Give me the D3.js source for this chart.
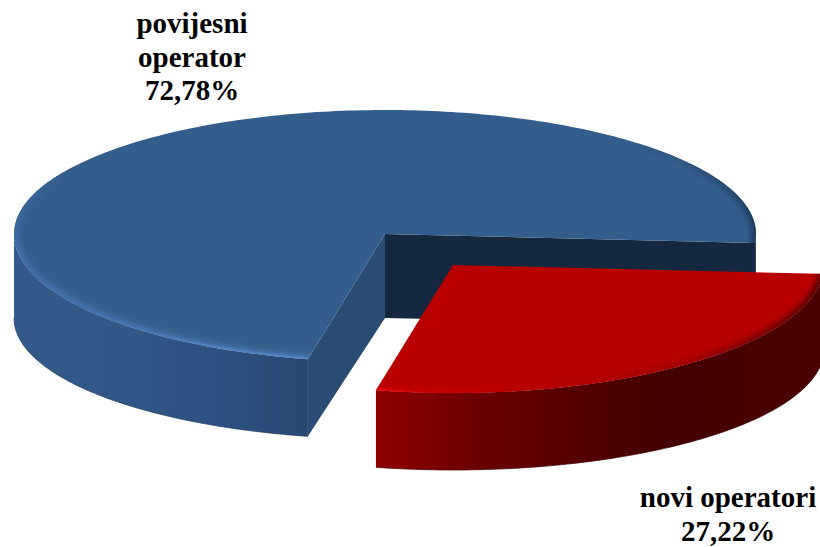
<!DOCTYPE html>
<html>
<head>
<meta charset="utf-8">
<script src="https://cdn.jsdelivr.net/npm/d3@7"></script>
<style>
	html, body { margin: 0; padding: 0; background: #fff; }
	svg { display: block; }
	text { font-family: "Liberation Serif", serif; font-weight: bold; font-size: 29px; fill: #000; }
</style>
</head>
<body>
<svg id="pie" width="820" height="547" viewBox="0 0 820 547"></svg>
<script>
const categories = ["novi operatori", "povijesni operator"];
const shares = [27.22, 72.78];
const share_labels = ["27,22%", "72,78%"];

const svg = d3.select("#pie");
const defs = svg.append("defs");

const rx = 371;
const ry_back = 124;
const ry_front = 128;
const ry_base = 121;
const depth = 84;
const deg = Math.PI / 180;

// the red slice comes first, clockwise from just under "3 o'clock"
const slices = d3.pie().sort(null).startAngle(94 * deg).endAngle(454 * deg)(shares);
const red = slices[0];
const blue = slices[1];

const center_blue = [385, 234];
const center_red = [453, 265];

// flat pie angle to a point of the tilted rim
function rim(c, a, base) {
	const cos = Math.cos(a);
	if (base) return [c[0] + rx * Math.sin(a), c[1] + depth - (cos > 0 ? ry_back : ry_base) * cos];
	return [c[0] + rx * Math.sin(a), c[1] - (cos > 0 ? ry_back : ry_front) * cos];
}

function angles(a0, a1) {
	const n = Math.ceil(Math.abs(a1 - a0) / deg);
	return d3.range(n + 1).map(i => a0 + (a1 - a0) * i / n);
}

const line = d3.line();

function gradient(id, stops, vertical) {
	const g = defs.append("linearGradient")
		.attr("id", id)
		.attr("gradientUnits", "userSpaceOnUse")
		.attr("x1", 0).attr("y1", 0)
		.attr("x2", vertical ? 0 : 820).attr("y2", vertical ? 547 : 0);
	g.selectAll("stop")
		.data(stops)
		.enter()
		.append("stop")
			.attr("offset", d => d[0] / (vertical ? 547 : 820))
			.attr("stop-color", d => d[1]);
}

gradient("wall-blue", [[13, "#33598a"], [130, "#305786"], [220, "#2d5080"], [308, "#294870"]]);
gradient("wall-red", [[375, "#900000"], [470, "#6e0000"], [600, "#500000"], [660, "#440000"], [800, "#4a0000"]]);
gradient("rim-blue-light", [[175, "#335e8c"], [250, "#4674ae"], [360, "#4a7ab4"]], true);
gradient("rim-blue-line", [[60, "#3f6da6"], [200, "#5486c4"], [308, "#5c8ecb"]]);
gradient("rim-blue-dark", [[560, "#335e8c"], [690, "#2e5480"], [756, "#1c3555"]]);
gradient("rim-red", [[375, "#c80000"], [470, "#bc0000"], [600, "#b00000"], [700, "#900000"], [818, "#480000"]]);
gradient("rim-red-line", [[375, "#ee1010"], [440, "#cc0000"], [520, "#b80000"]]);

function blurFilter(id, amount) {
	defs.append("filter")
		.attr("id", id)
		.attr("x", "-5%").attr("y", "-5%")
		.attr("width", "110%").attr("height", "110%")
		.append("feGaussianBlur")
			.attr("stdDeviation", amount);
}
blurFilter("soft", 3);
blurFilter("tight", 1);

function outerWall(c, a0, a1, fill, edge) {
	const top = angles(a0, a1).map(a => rim(c, a));
	const bottom = angles(a1, a0).map(a => rim(c, a, true));
	svg.append("path")
		.attr("d", line(top.concat(bottom)) + "Z")
		.attr("fill", fill);
	if (edge) {
		svg.append("path")
			.attr("d", line(bottom))
			.attr("fill", "none")
			.attr("stroke", edge)
			.attr("stroke-width", 1)
			.attr("stroke-opacity", 0.7);
	}
}

function cutWall(c, a, fill) {
	const p = rim(c, a);
	const q = rim(c, a, true);
	svg.append("path")
		.attr("d", line([c, p, q, [c[0], c[1] + depth]]) + "Z")
		.attr("fill", fill);
}

function topFace(c, slice, id, fill, bevels) {
	const arc_points = angles(slice.startAngle, slice.endAngle).map(a => rim(c, a));
	const face = line([c].concat(arc_points)) + "Z";
	defs.append("clipPath").attr("id", id).append("path").attr("d", face);
	svg.append("path").attr("d", face).attr("fill", fill);
	// bevel along the round edge
	const g = svg.append("g").attr("clip-path", "url(#" + id + ")");
	bevels.forEach(b => {
		g.append("path")
			.attr("d", line(angles(b[0] * deg, b[1] * deg).map(a => rim(c, a))))
			.attr("fill", "none")
			.attr("stroke", "url(#" + b[2] + ")")
			.attr("stroke-width", b[3])
			.attr("filter", "url(#" + b[4] + ")");
	});
}

// blue slice, back to front
cutWall(center_blue, blue.endAngle, "#16283f");
outerWall(center_blue, 90 * deg, blue.endAngle - 360 * deg, "#1c3555");
cutWall(center_blue, blue.startAngle, "#2a4c74");
outerWall(center_blue, blue.startAngle, 270 * deg, "url(#wall-blue)", "#1e3a5e");
topFace(center_blue, blue, "face-blue", "#335e8c", [
	[185, 300, "rim-blue-light", 8, "soft"],
	[192, 245, "rim-blue-line", 3, "tight"],
	[405, 460, "rim-blue-dark", 8, "soft"]
]);

// red slice sits in front
outerWall(center_red, red.startAngle, red.endAngle, "url(#wall-red)", "#3c0000");
topFace(center_red, red, "face-red", "#b80000", [
	[90, 196, "rim-red", 8, "soft"],
	[170, 196, "rim-red-line", 3, "tight"]
]);

// labels
const label_blue = svg.append("text").attr("text-anchor", "middle");
["povijesni", "operator", share_labels[1]].forEach((t, i) => {
	label_blue.append("tspan").attr("x", 192).attr("y", 33 + i * 33.5).text(t);
});

const label_red = svg.append("text").attr("text-anchor", "middle");
[categories[0], share_labels[0]].forEach((t, i) => {
	label_red.append("tspan").attr("x", 728).attr("y", 507 + i * 34).text(t);
});
</script>
</body>
</html>
